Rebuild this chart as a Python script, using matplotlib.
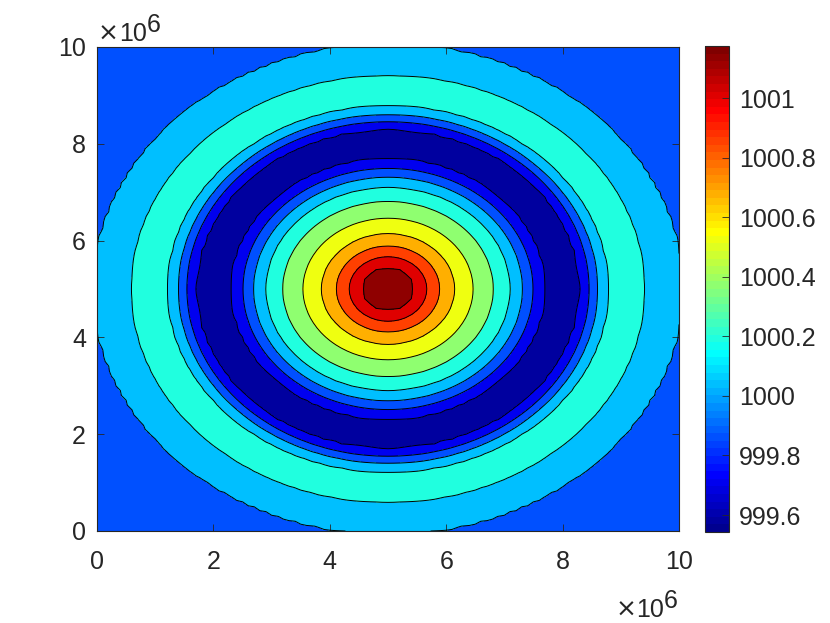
import numpy as np
import matplotlib
matplotlib.use("Agg")
import matplotlib.pyplot as plt
from matplotlib.colors import ListedColormap, Normalize
from matplotlib.cm import ScalarMappable

# ---- data ----
# radial profile of the field (radius in units of 1e6, value)
profile_radius = [0.0, 0.452, 0.666, 0.885, 1.14, 1.46, 1.81, 2.10, 2.31, 2.49,
                  2.686, 2.99, 3.30, 3.458, 3.60, 3.78, 4.09, 4.405, 5.05, 7.10]
profile_value = [1001.175, 1001.093, 1000.930, 1000.767, 1000.604, 1000.441,
                 1000.277, 1000.114, 999.951, 999.788, 999.625, 999.543,
                 999.625, 999.788, 999.951, 1000.114, 1000.25, 1000.114,
                 999.951, 999.85]
center = (5.0e6, 5.0e6)
domain = (0.0, 1.0e7)
contour_levels = [999.540, 999.625, 999.788, 999.951, 1000.114, 1000.277,
                  1000.441, 1000.604, 1000.767, 1000.930, 1001.093, 1001.180]
clim = (999.543, 1001.175)
xticks = [0, 2e6, 4e6, 6e6, 8e6, 10e6]
xticklabels = ["0", "2", "4", "6", "8", "10"]
yticks = [0, 2e6, 4e6, 6e6, 8e6, 10e6]
yticklabels = ["0", "2", "4", "6", "8", "10"]
cbar_ticks = [999.6, 999.8, 1000.0, 1000.2, 1000.4, 1000.6, 1000.8, 1001.0]
cbar_ticklabels = ["999.6", "999.8", "1000", "1000.2", "1000.4", "1000.6",
                   "1000.8", "1001"]
exp_times = "\u00d7"
exp_base = "10"
exp_power = "6"

# ---- MATLAB-style jet(64) colormap ----
def matlab_jet(m=64):
    n = int(np.ceil(m / 4))
    u = np.concatenate([np.arange(1, n + 1) / n, np.ones(n - 1),
                        np.arange(n, 0, -1) / n])
    g = int(np.ceil(n / 2)) - (1 if m % 4 == 1 else 0) + np.arange(1, len(u) + 1)
    r = g + n
    b = g - n
    J = np.zeros((m, 3))
    rm = r <= m
    J[r[rm] - 1, 0] = u[rm]
    gm = g <= m
    J[g[gm] - 1, 1] = u[gm]
    bm = b >= 1
    J[b[bm] - 1, 2] = u[bm]
    return ListedColormap(J)

cmap = matlab_jet(64)
norm = Normalize(vmin=clim[0], vmax=clim[1])

plt.rcParams['font.family'] = ['Liberation Sans', 'DejaVu Sans']
FS = 18
TC = '#262626'

fig = plt.figure(figsize=(8.30, 6.23), dpi=100)
ax = fig.add_axes([97 / 830, 1 - 531 / 623, 582 / 830, 484 / 623])

xs = np.linspace(domain[0], domain[1], 101)
X, Y = np.meshgrid(xs, xs)
R = np.hypot(X - center[0], Y - center[1]) / 1e6
Z = np.interp(R, profile_radius, profile_value)

ax.contourf(X, Y, Z, levels=contour_levels, cmap=cmap, norm=norm)
ax.contour(X, Y, Z, levels=contour_levels[1:-1], colors='k', linewidths=0.7)

ax.set_xlim(domain)
ax.set_ylim(domain)
ax.set_xticks(xticks)
ax.set_xticklabels(xticklabels)
ax.set_yticks(yticks)
ax.set_yticklabels(yticklabels)
ax.tick_params(direction='in', top=True, right=True, length=5, width=0.6,
               labelsize=FS, colors=TC)
ax.tick_params(axis='x', pad=14)
ax.tick_params(axis='y', pad=8)
for s in ax.spines.values():
    s.set_color(TC)
    s.set_linewidth(0.8)

cax = fig.add_axes([705 / 830, 1 - 532 / 623, 24 / 830, 486 / 623])
cb = fig.colorbar(ScalarMappable(norm=norm, cmap=cmap), cax=cax)
cb.set_ticks(cbar_ticks)
cb.set_ticklabels(cbar_ticklabels)
cax.tick_params(direction='in', length=5, width=0.6, labelsize=FS,
                colors=TC, pad=7)
cb.outline.set_edgecolor(TC)
cb.outline.set_linewidth(0.8)

# axis exponent labels (x10^6): times sign + base + raised power
def exponent_label(x_px, baseline_px, align):
    fig.canvas.draw()
    r = fig.canvas.get_renderer()
    t0 = fig.text(0, 0, exp_times, fontsize=FS, color=TC, va='baseline',
                  family='DejaVu Sans')
    t1 = fig.text(0, 0, exp_base, fontsize=FS, color=TC, va='baseline')
    t2 = fig.text(0, 0, exp_power, fontsize=FS, color=TC, va='baseline')
    w0 = t0.get_window_extent(r).width
    w1 = t1.get_window_extent(r).width
    w2 = t2.get_window_extent(r).width
    left = x_px if align == 'left' else x_px - w0 - w1 - w2
    t0.set_position((left / 830, 1 - baseline_px / 623))
    t1.set_position(((left + w0) / 830, 1 - baseline_px / 623))
    t2.set_position(((left + w0 + w1) / 830, 1 - (baseline_px - 9) / 623))

exponent_label(98, 41, 'left')
exponent_label(678, 617, 'right')

fig.savefig("out.png", dpi=100)
